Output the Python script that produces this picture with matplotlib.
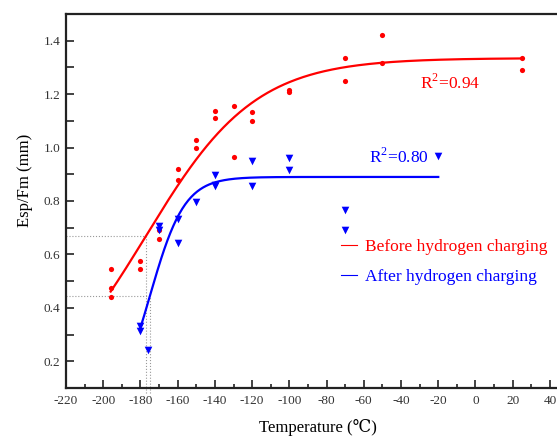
import numpy as np
import matplotlib
matplotlib.use("Agg")
import matplotlib.pyplot as plt
from matplotlib.lines import Line2D
from matplotlib.ticker import MultipleLocator

plt.rcParams['font.family'] = ['Liberation Serif', 'DejaVu Serif', 'DejaVu Sans']
plt.rcParams['mathtext.fontset'] = 'custom'
plt.rcParams['mathtext.rm'] = 'Liberation Serif'
plt.rcParams['axes.unicode_minus'] = False

# Measured Esp/Fm before hydrogen charging
before_temp = [-196, -196, -196, -180, -180, -170, -170, -160, -160, -150, -150,
               -140, -140, -130, -130, -120, -120, -100, -100, -70, -70, -50, -50, 25, 25]
before_esp = [0.547, 0.474, 0.440, 0.576, 0.544, 0.692, 0.656, 0.920, 0.877, 1.029, 0.997,
              1.138, 1.111, 1.156, 0.963, 1.133, 1.101, 1.216, 1.207, 1.334, 1.249, 1.420, 1.317, 1.335, 1.289]

# Measured Esp/Fm after hydrogen charging
after_temp = [-180, -180, -176, -170, -170, -160, -160, -150, -140, -140, -140,
              -120, -120, -100, -100, -70, -70, -20]
after_esp = [0.332, 0.312, 0.241, 0.705, 0.690, 0.731, 0.642, 0.798, 0.899, 0.860, 0.855,
             0.950, 0.858, 0.960, 0.917, 0.766, 0.693, 0.970]

# Boltzmann fit parameters (A1, A2, x0, dx) and fitted temperature ranges
before_fit = (0.0, 1.335, -177.2, 29.4)
after_fit = (0.0, 0.890, -174.9, 9.3)
before_range = (-196, 25)
after_range = (-180, -20)
before_r2 = "0.94"
after_r2 = "0.80"


def boltzmann(x, a1, a2, x0, dx):
    return a2 + (a1 - a2) / (1.0 + np.exp((x - x0) / dx))


fig = plt.figure(figsize=(5.57, 4.41), dpi=100)
ax = fig.add_axes([66 / 557, 53 / 441, 491 / 557, 374 / 441])

red = '#ff0000'
blue = '#0000ff'

ax.scatter(before_temp, before_esp, s=14, c=red, marker='o', linewidths=0, zorder=3)
ax.scatter(after_temp, after_esp, s=30, c=blue, marker='v', linewidths=0, zorder=3)

xb = np.linspace(*before_range, 300)
ax.plot(xb, boltzmann(xb, *before_fit), color=red, lw=1.6, zorder=2)
xa = np.linspace(*after_range, 300)
ax.plot(xa, boltzmann(xa, *after_fit), color=blue, lw=1.6, zorder=2)

# guide lines marking the transition temperatures (curve mid-points)
for (a1, a2, x0, dx) in (before_fit, after_fit):
    ymid = (a1 + a2) / 2
    ax.plot([-220, x0], [ymid, ymid], ls=':', color='#999999', lw=0.8, zorder=1)
    ax.plot([x0, x0], [0.081, ymid], ls=':', color='#999999', lw=0.8, zorder=1,
            clip_on=False)

ax.text(-30, 1.22, r'R$^{\mathregular{2}}$=' + before_r2, color=red, fontsize=12.5)
ax.text(-57, 0.944, r'R$^{\mathregular{2}}$=' + after_r2, color=blue, fontsize=12.5)

handles = [Line2D([], [], color=red, lw=0.8), Line2D([], [], color=blue, lw=0.8)]
leg = ax.legend(handles, ['Before hydrogen charging', 'After hydrogen charging'],
                loc='upper left', bbox_to_anchor=(341 / 557, 1 - 239 / 441),
                bbox_transform=fig.transFigure, frameon=False, fontsize=12.5,
                handlelength=0.95, handletextpad=0.45, labelspacing=0.8,
                borderpad=0, borderaxespad=0)
for txt, col in zip(leg.get_texts(), (red, blue)):
    txt.set_color(col)

ax.set_xlim(-220, 43.8)
ax.set_ylim(0.1, 1.5)
ax.xaxis.set_major_locator(MultipleLocator(20))
ax.xaxis.set_minor_locator(MultipleLocator(10))
ax.yaxis.set_major_locator(MultipleLocator(0.2))
ax.yaxis.set_minor_locator(MultipleLocator(0.1))
ax.set_xticks(np.arange(-220, 41, 20))
ax.set_yticks(np.arange(0.2, 1.41, 0.2))
ax.set_yticklabels([f"{v:.1f}" for v in np.arange(0.2, 1.41, 0.2)])

ax.tick_params(which='both', direction='in', colors='#222222', labelcolor='#333333',
               labelsize=9.5, width=1.2, top=False, right=False)
ax.tick_params(axis='x', which='major', length=5.5, pad=5)
ax.tick_params(axis='x', which='minor', length=3)
ax.tick_params(axis='y', which='both', length=5.5, pad=4)

for side in ('left', 'bottom', 'top'):
    ax.spines[side].set_linewidth(1.6)
    ax.spines[side].set_color('#222222')
ax.spines['right'].set_visible(False)

ax.set_xlabel('Temperature (\u2103)', fontsize=12)
ax.set_ylabel('Esp/Fm (mm)', fontsize=12)
ax.xaxis.set_label_coords(0.514, -0.082)
ax.yaxis.set_label_coords(-0.068, 0.556)

fig.savefig('out.png', dpi=100)
